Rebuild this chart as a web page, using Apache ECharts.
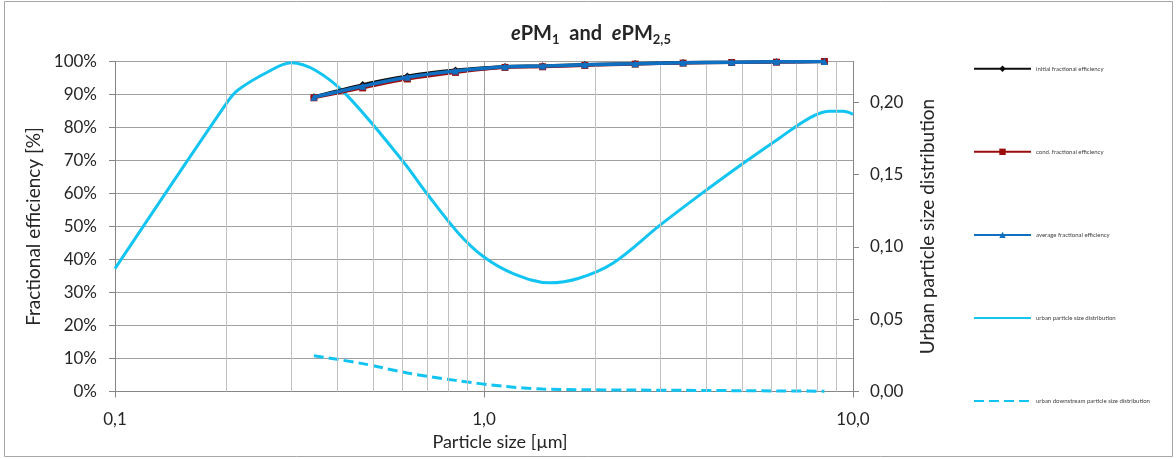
<!DOCTYPE html>
<html>
<head>
<meta charset="utf-8">
<script src="https://cdn.jsdelivr.net/npm/echarts@6/dist/echarts.min.js"></script>
<style>
  html, body { margin: 0; padding: 0; background: #ffffff; }
  #chart { width: 1176px; height: 459px; }
</style>
</head>
<body>
<div id="chart"></div>
<script>
// Particle size channel centres [µm] for the efficiency measurements
const sizeBins = [0.346, 0.469, 0.620, 0.837, 1.140, 1.442, 1.876, 2.569, 3.464, 4.690, 6.205, 8.367];

// Fractional efficiencies [%]
const initialEff = [89.3, 93.0, 95.6, 97.4, 98.5, 98.7, 99.1, 99.4, 99.7, 99.8, 99.9, 100.0];
const condEff    = [89.0, 92.0, 94.7, 96.7, 98.2, 98.4, 98.8, 99.2, 99.5, 99.7, 99.8, 100.0];
const averageEff = [89.2, 92.5, 95.2, 97.1, 98.4, 98.6, 99.0, 99.3, 99.6, 99.8, 99.9, 100.0];

// Urban particle size distribution (right axis)
const urbanSizes = [0.10, 0.20, 0.215, 0.26, 0.30, 0.35, 0.424, 0.60, 0.70, 0.85, 1.0, 1.2, 1.5, 1.8,
                    2.24, 3.0, 3.83, 4.9, 6.3, 7.6, 8.6, 9.4, 10.0];
const urbanDist  = [0.0850, 0.1990, 0.2084, 0.2212, 0.2275, 0.2221, 0.2052, 0.1600, 0.1370, 0.1099, 0.0930, 0.0816, 0.0752, 0.0782,
                    0.0889, 0.1151, 0.1357, 0.1557, 0.1751, 0.1890, 0.1938, 0.1938, 0.1917];

// Urban downstream distribution (right axis), same channels as efficiency
const downstreamDist = [0.0247, 0.0193, 0.0128, 0.0077, 0.0035, 0.0017, 0.0012, 0.0010, 0.0008, 0.0006, 0.0004, 0.0002];

// Axis settings
const leftTicks = { min: 0, max: 100, interval: 10 };
const rightTicks = { min: 0, max: 0.2283, interval: 0.05 };
const minorSizes = [0.2, 0.3, 0.4, 0.5, 0.6, 0.7, 0.8, 0.9, 2, 3, 4, 5, 6, 7, 8, 9];

const seriesNames = [
  'initial fractional efficiency',
  'cond. fractional efficiency',
  'average fractional efficiency',
  'urban particle size distribution',
  'urban downstream particle size distribution'
];

const pairs = (xs, ys) => xs.map((x, i) => [x, ys[i]]);
const FONT = 'Lato, "Liberation Sans", sans-serif';
const TXT = '#262626';
const CYAN = '#12c4f2';

const chart = echarts.init(document.getElementById('chart'), null, { renderer: 'canvas' });

chart.setOption({
  backgroundColor: '#ffffff',
  animation: false,
  textStyle: { fontFamily: FONT },
  title: {
    text: '{i|e}{b|PM}{s|1}{b|  and  }{i|e}{b|PM}{s|2,5}',
    left: 511,
    top: 22,
    padding: 0,
    textStyle: {
      lineHeight: 24,
      rich: {
        i: { fontFamily: FONT, fontSize: 20, fontWeight: 'bold', fontStyle: 'italic', color: TXT, lineHeight: 24 },
        b: { fontFamily: FONT, fontSize: 20, fontWeight: 'bold', color: TXT, lineHeight: 24 },
        s: { fontFamily: FONT, fontSize: 13, fontWeight: 'bold', color: TXT, lineHeight: 8, verticalAlign: 'bottom' }
      }
    }
  },
  graphic: [{
    type: 'rect',
    silent: true,
    shape: { x: 4.5, y: 1.5, width: 1168, height: 455 },
    style: { fill: 'none', stroke: '#a6a6a6', lineWidth: 1 }
  }],
  legend: {
    orient: 'vertical',
    left: 973,
    top: 65.5,
    padding: 0,
    itemWidth: 57,
    itemHeight: 8,
    itemGap: 76.7,
    selectedMode: false,
    data: [
      { name: seriesNames[0] },
      { name: seriesNames[1] },
      { name: seriesNames[2] },
      { name: seriesNames[3], itemStyle: { opacity: 0 } },
      { name: seriesNames[4], itemStyle: { opacity: 0 } }
    ],
    textStyle: { fontFamily: FONT, fontSize: 6, color: '#404040' }
  },
  grid: { left: 115, top: 61.5, width: 738, height: 330, containLabel: false },
  xAxis: {
    type: 'log',
    logBase: 10,
    min: 0.1,
    max: 10,
    name: 'Particle size [µm]',
    nameLocation: 'middle',
    nameGap: 40,
    nameTextStyle: { fontFamily: FONT, fontSize: 18, color: TXT, padding: [0, 0, 0, 32] },
    axisLine: { show: true, lineStyle: { color: '#868686', width: 1 } },
    axisTick: { show: true, inside: false, length: 6, lineStyle: { color: '#868686' } },
    axisLabel: {
      margin: 20,
      fontFamily: FONT, fontSize: 17, color: TXT,
      formatter: v => v.toFixed(1).replace('.', ',')
    },
    splitLine: { show: true, lineStyle: { color: '#a0a0a0', width: 1 } }
  },
  yAxis: [{
    type: 'value',
    position: 'left',
    min: leftTicks.min,
    max: leftTicks.max,
    interval: leftTicks.interval,
    name: 'Fractional efficiency [%]',
    nameLocation: 'middle',
    nameGap: 72,
    nameRotate: 90,
    nameTextStyle: { fontFamily: FONT, fontSize: 19, color: TXT },
    axisLine: { show: true, lineStyle: { color: '#868686', width: 1 } },
    axisTick: { show: true, inside: false, length: 6, lineStyle: { color: '#868686' } },
    axisLabel: { margin: 18, fontFamily: FONT, fontSize: 17, color: TXT, formatter: v => v + '%' },
    splitLine: { show: true, lineStyle: { color: '#a0a0a0', width: 1 } }
  }, {
    type: 'value',
    position: 'right',
    min: rightTicks.min,
    max: rightTicks.max,
    interval: rightTicks.interval,
    name: 'Urban particle size distribution',
    nameLocation: 'middle',
    nameGap: 65,
    nameRotate: 90,
    nameTextStyle: { fontFamily: FONT, fontSize: 19, color: TXT },
    axisLine: { show: true, lineStyle: { color: '#868686', width: 1 } },
    axisTick: { show: true, inside: false, length: 6, lineStyle: { color: '#868686' } },
    axisLabel: {
      margin: 17, fontFamily: FONT, fontSize: 17, color: TXT, showMaxLabel: false,
      formatter: v => v.toFixed(2).replace('.', ',')
    },
    splitLine: { show: false }
  }],
  series: [
    {
      // minor vertical grid lines of the log axis
      type: 'line',
      name: 'minor-grid',
      xAxisIndex: 0, yAxisIndex: 0,
      data: [],
      silent: true,
      z: 1,
      markLine: {
        silent: true,
        symbol: ['none', 'none'],
        label: { show: false },
        lineStyle: { color: '#c2c2c2', width: 1, type: 'solid' },
        data: minorSizes.map(v => ({ xAxis: v }))
      }
    },
    {
      name: seriesNames[4],
      type: 'line',
      yAxisIndex: 1,
      data: pairs(sizeBins, downstreamDist),
      smooth: 0.3,
      showSymbol: false,
      symbol: 'none',
      lineStyle: { color: CYAN, width: 3, type: [10, 5] },
      itemStyle: { color: CYAN },
      z: 3
    },
    {
      name: seriesNames[3],
      type: 'line',
      yAxisIndex: 1,
      data: pairs(urbanSizes, urbanDist),
      smooth: 0.35,
      showSymbol: false,
      symbol: 'none',
      lineStyle: { color: CYAN, width: 3 },
      itemStyle: { color: CYAN },
      z: 3
    },
    {
      name: seriesNames[0],
      type: 'line',
      yAxisIndex: 0,
      data: pairs(sizeBins, initialEff),
      smooth: 0.3,
      symbol: 'diamond',
      symbolSize: 7,
      lineStyle: { color: '#0d0d0d', width: 3 },
      itemStyle: { color: '#0d0d0d' },
      z: 4
    },
    {
      name: seriesNames[1],
      type: 'line',
      yAxisIndex: 0,
      data: pairs(sizeBins, condEff),
      smooth: 0.3,
      symbol: 'rect',
      symbolSize: 7,
      lineStyle: { color: '#9b0d0d', width: 3 },
      itemStyle: { color: '#9b0d0d' },
      z: 4
    },
    {
      name: seriesNames[2],
      type: 'line',
      yAxisIndex: 0,
      data: pairs(sizeBins, averageEff),
      smooth: 0.3,
      symbol: 'triangle',
      symbolSize: 7,
      lineStyle: { color: '#0f6fc0', width: 3.5 },
      itemStyle: { color: '#0f6fc0' },
      z: 5
    }
  ]
});
</script>
</body>
</html>
